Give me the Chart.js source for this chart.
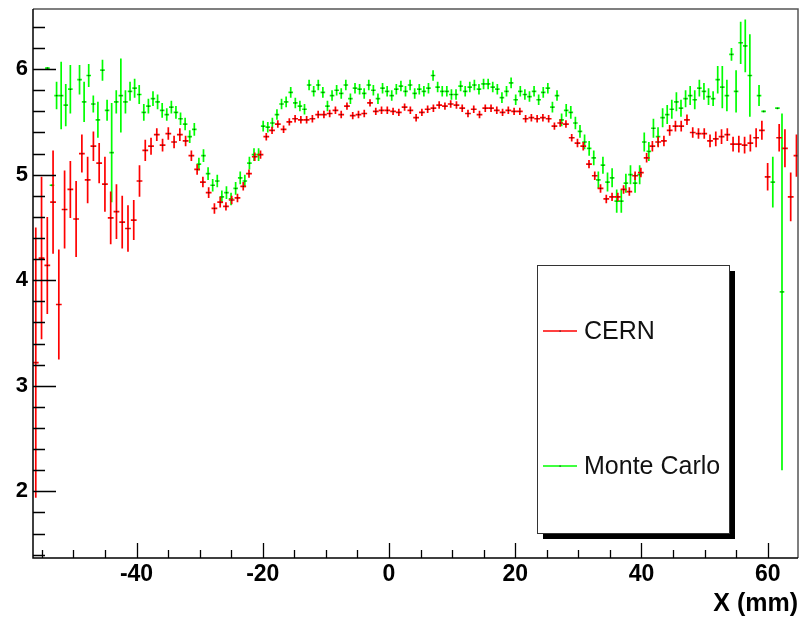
<!DOCTYPE html>
<html>
<head>
<meta charset="utf-8">
<script src="https://cdn.jsdelivr.net/npm/chart.js@4.4.0/dist/chart.umd.min.js"></script>
<style>
  html, body { margin: 0; padding: 0; background: #fff; }
  #wrap { width: 801px; height: 619px; }
</style>
</head>
<body>
<div id="wrap"><canvas id="myChart" width="801" height="619"></canvas></div>
<script>
// histogram binning, bin centres in mm
const cernFirstBin = -55.96;
const cernBinWidth = 0.913;
const mcFirstBin = -54.12;
const mcBinWidth = 0.7274;

const cernValues = [
  3.22,4.21,4.14,4.74,3.77,4.67,4.86,4.58,5.20,4.95,
  5.27,5.11,4.91,4.59,4.65,4.55,4.49,4.57,4.94,5.23,
  5.27,5.38,5.28,5.39,5.31,5.38,5.32,5.18,5.05,4.93,
  4.83,4.68,4.74,4.70,4.76,4.78,4.89,5.01,5.17,5.19,
  5.36,5.42,5.48,5.43,5.50,5.53,5.52,5.52,5.53,5.57,
  5.57,5.58,5.61,5.57,5.65,5.56,5.57,5.58,5.68,5.60,
  5.61,5.61,5.60,5.59,5.64,5.61,5.54,5.59,5.62,5.63,
  5.66,5.65,5.67,5.66,5.63,5.58,5.62,5.57,5.63,5.63,
  5.61,5.59,5.61,5.60,5.60,5.53,5.54,5.53,5.54,5.53,
  5.46,5.49,5.48,5.35,5.30,5.27,5.10,4.99,4.87,4.77,
  4.79,4.79,4.86,4.84,4.99,5.02,5.16,5.27,5.31,5.32,
  5.42,5.46,5.46,5.52,5.40,5.39,5.39,5.32,5.34,5.36,
  5.38,5.29,5.29,5.28,5.30,5.35,5.42,4.98,null,5.35,
  5.25,4.79,5.18
];
const cernErrors = [
  1.28,0.77,0.46,0.49,0.52,0.37,0.27,0.36,0.18,0.22,
  0.14,0.19,0.26,0.25,0.26,0.25,0.22,0.19,0.15,0.10,
  0.08,0.06,0.06,0.06,0.06,0.06,0.05,0.05,0.05,0.05,
  0.05,0.05,0.05,0.04,0.04,0.04,0.04,0.04,0.04,0.04,
  0.035,0.035,0.035,0.035,0.035,0.035,0.035,0.035,0.035,0.035,
  0.035,0.035,0.035,0.035,0.035,0.035,0.035,0.035,0.035,0.035,
  0.035,0.035,0.035,0.035,0.035,0.035,0.035,0.035,0.035,0.035,
  0.035,0.035,0.035,0.035,0.035,0.035,0.035,0.035,0.035,0.035,
  0.035,0.035,0.035,0.035,0.035,0.035,0.035,0.035,0.035,0.035,
  0.035,0.035,0.035,0.035,0.04,0.04,0.04,0.04,0.04,0.04,
  0.04,0.04,0.04,0.04,0.04,0.045,0.045,0.05,0.05,0.05,
  0.05,0.05,0.05,0.05,0.05,0.05,0.05,0.06,0.07,0.07,
  0.06,0.07,0.08,0.08,0.08,0.09,0.09,0.13,null,0.13,
  0.18,0.23,0.20
];

const mcValues = [
  6.01,4.90,5.75,5.75,5.66,5.81,null,5.90,5.69,5.94,
  5.67,5.52,5.99,5.61,5.21,5.69,5.75,5.69,5.79,5.82,
  5.76,5.59,5.65,5.72,5.69,5.61,5.57,5.64,5.59,5.53,
  5.48,5.36,5.43,5.10,5.18,5.01,4.90,4.94,4.79,4.83,
  4.77,4.87,4.97,4.94,5.11,5.19,5.19,5.46,5.45,5.49,
  5.57,5.67,5.69,5.78,5.68,5.65,5.62,5.85,5.79,5.85,
  5.78,5.65,5.75,5.80,5.77,5.85,5.72,5.82,5.81,5.77,
  5.85,5.80,5.72,5.82,5.79,5.75,5.81,5.84,5.79,5.85,
  5.77,5.81,5.79,5.82,5.94,5.83,5.79,5.79,5.76,5.76,
  5.84,5.79,5.83,5.85,5.81,5.86,5.86,5.83,5.81,5.73,
  5.79,5.87,5.71,5.79,5.76,5.74,5.79,5.71,5.78,5.82,
  5.64,5.75,5.52,5.61,5.59,5.49,5.41,5.31,5.25,5.16,
  4.95,5.09,4.93,4.97,4.75,4.75,4.92,5.00,4.92,5.00,
  5.31,5.22,5.44,5.36,5.54,5.57,5.62,5.69,5.63,5.72,
  5.75,5.71,5.82,5.79,5.74,5.72,5.90,5.83,5.75,6.14,
  5.79,6.25,6.22,5.94,null,5.75,5.60,null,4.93,5.63,
  3.89
];
const mcErrors = [
  0.01,0.01,0.13,0.32,0.20,0.23,null,0.14,0.19,0.11,
  0.08,0.17,0.10,0.10,0.47,0.11,0.35,0.11,0.09,0.09,
  0.09,0.08,0.07,0.07,0.07,0.07,0.06,0.06,0.06,0.06,
  0.06,0.06,0.06,0.06,0.06,0.06,0.06,0.06,0.06,0.06,
  0.06,0.06,0.06,0.06,0.06,0.06,0.06,0.05,0.05,0.05,
  0.05,0.05,0.05,0.05,0.05,0.05,0.05,0.05,0.05,0.05,
  0.05,0.05,0.05,0.05,0.05,0.05,0.05,0.05,0.05,0.05,
  0.05,0.05,0.05,0.05,0.05,0.05,0.05,0.05,0.05,0.05,
  0.05,0.05,0.05,0.05,0.05,0.05,0.05,0.05,0.05,0.05,
  0.05,0.05,0.05,0.05,0.05,0.05,0.05,0.05,0.05,0.05,
  0.05,0.05,0.05,0.05,0.05,0.05,0.05,0.05,0.05,0.05,
  0.05,0.05,0.06,0.06,0.06,0.06,0.06,0.07,0.07,0.07,
  0.08,0.08,0.09,0.09,0.11,0.11,0.09,0.09,0.09,0.09,
  0.09,0.09,0.09,0.09,0.09,0.09,0.09,0.09,0.08,0.08,
  0.09,0.09,0.08,0.08,0.08,0.07,0.13,0.20,0.15,0.06,
  0.20,0.20,0.25,0.39,null,0.10,0.01,null,0.24,0.01,
  1.69
];

const xTickLabels = [-40, -20, 0, 20, 40, 60];
const yTickLabels = [2, 3, 4, 5, 6];
const xTitle = 'X (mm)';

const FONT = "'Liberation Sans', Arial, Helvetica, sans-serif";

function toPoints(first, width, values, errors) {
  const pts = [];
  values.forEach((v, i) => {
    if (v === null) return;
    pts.push({x: first + i * width, y: v, err: errors[i]});
  });
  return pts;
}

function isMultiple(v, step) {
  return Math.abs(v / step - Math.round(v / step)) < 1e-6;
}

// crosses: bin width horizontally, error vertically
const errorBars = {
  id: 'errorBars',
  afterDatasetsDraw(chart) {
    const {ctx, chartArea: a, scales: {x, y}} = chart;
    ctx.save();
    ctx.beginPath();
    ctx.rect(a.left, a.top, a.right - a.left, a.bottom - a.top);
    ctx.clip();
    chart.data.datasets.slice().reverse().forEach(ds => {
      ctx.strokeStyle = ds.borderColor;
      ctx.lineWidth = 1.7;
      ds.data.forEach(p => {
        const px = x.getPixelForValue(p.x);
        const py = y.getPixelForValue(p.y);
        ctx.beginPath();
        ctx.moveTo(x.getPixelForValue(p.x - ds.halfWidth), py);
        ctx.lineTo(x.getPixelForValue(p.x + ds.halfWidth), py);
        ctx.moveTo(px, y.getPixelForValue(p.y + p.err));
        ctx.lineTo(px, y.getPixelForValue(p.y - p.err));
        ctx.stroke();
        ctx.fillStyle = '#222';
        ctx.fillRect(px - 0.5, py - 0.5, 1.2, 1.2);
      });
    });
    ctx.restore();
  }
};

// ROOT-like frame with ticks pointing inward
const frame = {
  id: 'frame',
  afterDraw(chart) {
    const {ctx, chartArea: a, scales: {x, y}} = chart;
    ctx.save();
    ctx.strokeStyle = '#555';
    ctx.lineWidth = 1.5;
    ctx.beginPath();
    ctx.moveTo(a.left, a.top); ctx.lineTo(a.right, a.top); ctx.lineTo(a.right, a.bottom);
    ctx.stroke();
    ctx.strokeStyle = '#000';
    ctx.beginPath();
    ctx.moveTo(a.left, a.top); ctx.lineTo(a.left, a.bottom); ctx.lineTo(a.right, a.bottom);
    ctx.stroke();
    ctx.lineWidth = 1.3;
    ctx.beginPath();
    x.ticks.forEach(t => {
      if (!isMultiple(t.value, 5)) return;
      const len = isMultiple(t.value, 20) ? 15 : 8;
      const px = Math.round(x.getPixelForValue(t.value)) + 0.5;
      ctx.moveTo(px, a.bottom); ctx.lineTo(px, a.bottom - len);
    });
    y.ticks.forEach(t => {
      if (!isMultiple(t.value, 0.2)) return;
      const len = isMultiple(t.value, 1) ? 23 : 12;
      const py = Math.round(y.getPixelForValue(t.value)) + 0.5;
      ctx.moveTo(a.left, py); ctx.lineTo(a.left + len, py);
    });
    ctx.stroke();

    // legend box with shadow
    const bx = 537, by = 265, bw = 192, bh = 268;
    ctx.fillStyle = '#000';
    ctx.fillRect(bx + 6, by + 6, bw, bh);
    ctx.fillStyle = '#fff';
    ctx.fillRect(bx, by, bw, bh);
    ctx.strokeStyle = '#333';
    ctx.lineWidth = 1;
    ctx.strokeRect(bx + 0.5, by + 0.5, bw, bh);
    const rows = [331, 466];
    ctx.font = '25px ' + FONT;
    ctx.textBaseline = 'middle';
    ctx.textAlign = 'left';
    chart.data.datasets.forEach((ds, i) => {
      const ly = rows[i];
      ctx.strokeStyle = ds.borderColor;
      ctx.lineWidth = 1.6;
      ctx.beginPath(); ctx.moveTo(543, ly); ctx.lineTo(577, ly); ctx.stroke();
      ctx.fillStyle = '#222';
      ctx.fillRect(559.5, ly - 0.5, 1.2, 1.2);
      ctx.fillStyle = '#111';
      ctx.fillText(ds.label, 584, rows[i] + 1);
    });
    ctx.restore();
  }
};

new Chart(document.getElementById('myChart'), {
  type: 'scatter',
  data: {
    datasets: [
      {label: 'CERN', data: toPoints(cernFirstBin, cernBinWidth, cernValues, cernErrors),
       borderColor: '#ff0000', backgroundColor: '#ff0000', halfWidth: cernBinWidth / 2,
       pointRadius: 0, pointHoverRadius: 0, showLine: false},
      {label: 'Monte Carlo', data: toPoints(mcFirstBin, mcBinWidth, mcValues, mcErrors),
       borderColor: '#00ff00', backgroundColor: '#00ff00', halfWidth: mcBinWidth / 2,
       pointRadius: 0, pointHoverRadius: 0, showLine: false}
    ]
  },
  options: {
    responsive: false,
    animation: false,
    events: [],
    layout: {padding: {top: 9, right: 3, left: 0, bottom: 0}},
    plugins: {legend: {display: false}, tooltip: {enabled: false}},
    scales: {
      x: {
        type: 'linear',
        min: -56.4, max: 64.8,
        grid: {display: false, drawTicks: false},
        border: {display: false},
        afterFit(scale) { scale.height = 61; scale.paddingLeft = 0; scale.paddingRight = 0; },
        ticks: {
          stepSize: 5, includeBounds: false, autoSkip: false, maxRotation: 0,
          maxTicksLimit: 1000, padding: 3, color: '#000',
          font: {family: FONT, size: 23, weight: 'bold'},
          callback: v => xTickLabels.includes(v) ? String(v) : ''
        },
        title: {
          display: true, text: xTitle, align: 'end', color: '#000',
          font: {family: FONT, size: 25, weight: 'bold'},
          padding: {top: 0, bottom: 0}
        }
      },
      y: {
        type: 'linear',
        min: 1.368, max: 6.57,
        grid: {display: false, drawTicks: false},
        border: {display: false},
        afterFit(scale) { scale.width = 33; scale.paddingTop = 0; scale.paddingBottom = 0; },
        ticks: {
          stepSize: 0.2, includeBounds: false, autoSkip: false,
          maxTicksLimit: 1000, padding: 5, color: '#000',
          font: {family: FONT, size: 22, weight: 'bold'},
          callback: v => yTickLabels.some(t => Math.abs(t - v) < 1e-6) ? String(Math.round(v)) : ''
        }
      }
    }
  },
  plugins: [errorBars, frame]
});
</script>
</body>
</html>
